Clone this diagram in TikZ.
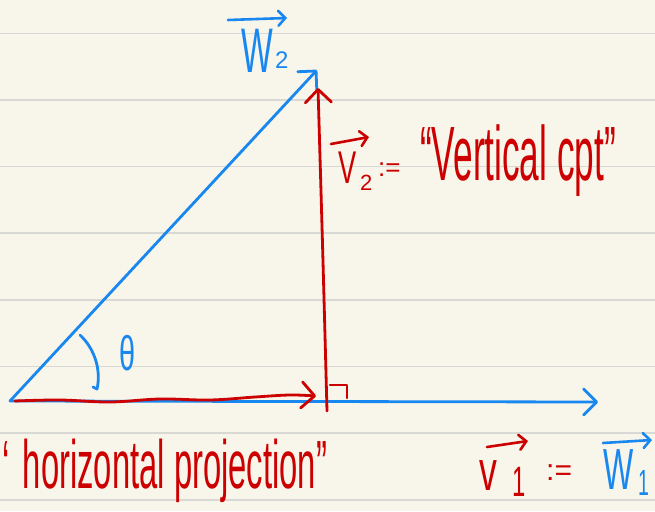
\documentclass[tikz,border=0pt]{standalone}
\usepackage{fontspec}
\setmainfont{Liberation Sans}
\usetikzlibrary{arrows.meta}
\definecolor{paper}{RGB}{248,245,234}
\definecolor{rulegray}{RGB}{216,216,212}
\definecolor{pen}{RGB}{25,135,240}
\definecolor{ink}{RGB}{204,0,0}
\tikzset{
  vecline/.style={line width=2.8pt, line cap=round, line join=round},
  barb/.style={-{Straight Barb[length=13pt,width=26pt,line cap=round,line join=round]}},
  smallbarb/.style={line width=2.6pt, line cap=round, -{Straight Barb[length=7pt,width=15pt,line cap=round]}},
  hand/.style={inner sep=0pt, anchor=base west},
}
\begin{document}
\begin{tikzpicture}[x=1pt,y=-1pt]
\fill[paper] (0,0) rectangle (655,511);
\useasboundingbox (0,0) rectangle (655,511);
\foreach \y in {33.5,100,166.5,233,300,366.5,433,500}
  \draw[rulegray, line width=1.5pt] (0,\y) -- (655,\y);

% main points
\coordinate (O) at (10,401);
\coordinate (A) at (317,70);
\coordinate (B) at (598,402);
\coordinate (F) at (327,411);
\coordinate (T) at (318,88);
\coordinate (S) at (15,401);
\coordinate (H) at (316,396);

% blue vectors
\draw[pen, vecline, barb] (O) -- (B);
\draw[pen, vecline, barb] (O) -- (A);

% red vertical component
\draw[ink, vecline, barb] (F) .. controls (323,260) .. (T);

% red horizontal projection (wavy)
\draw[ink, vecline, barb] plot[smooth, tension=0.6] coordinates
  {(S) (60,400) (110,402) (160,399) (210,400) (255,397) (290,395) (H)};

% right angle mark
\coordinate (R1) at (330,385);
\coordinate (R2) at (347,385);
\coordinate (R3) at (347,398);
\draw[ink, line width=2.4pt, line cap=round, line join=round] (R1) -- (R2) -- (R3);

% angle arc
\coordinate (th1) at (80,335);
\coordinate (th2) at (97,389);
\coordinate (th3) at (93,387);
\draw[pen, vecline] (th1) .. controls (96,350) and (101,372) .. (th2) -- (th3);
\node[pen, hand] (theta) at (119,370) {\fontsize{36}{36}\selectfont\scalebox{0.8}[1.35]{θ}};

% label W2
\node[pen, hand] (w2) at (241,72) {\fontsize{42}{42}\selectfont\scalebox{0.8}[1.5]{W}};
\node[pen, hand] (w2s) at (275,68) {\fontsize{24}{24}\selectfont 2};
\coordinate (w2l) at (228,20);
\coordinate (w2r) at (287,18);
\draw[pen, smallbarb] (w2l) -- (w2r);

% label V2 := "Vertical cpt"
\node[ink, hand] (v2) at (338,183) {\fontsize{34}{34}\selectfont\scalebox{0.8}[1.35]{V}};
\node[ink, hand] (v2s) at (360,190) {\fontsize{22}{22}\selectfont 2};
\coordinate (v2l) at (331,144);
\coordinate (v2r) at (369,137);
\draw[ink, smallbarb] (v2l) -- (v2r);
\node[ink, hand] (vdef) at (378,176) {\fontsize{26}{26}\selectfont :=};
\node[ink, hand] (vert) at (420,180) {\fontsize{44}{44}\selectfont\scalebox{0.8}[1.75]{“Vertical cpt”}};

% label horizontal projection
\node[ink, hand] (hproj) at (2,488) {\fontsize{39}{39}\selectfont\scalebox{0.84}[1.75]{‘\hspace{16pt}horizontal projection”}};

% label v1 := W1
\node[ink, hand] (v1) at (479,490) {\fontsize{42}{42}\selectfont\scalebox{0.85}[1.35]{v}};
\node[ink, hand] (v1s) at (512,496) {\fontsize{34}{34}\selectfont\scalebox{0.7}[1.25]{1}};
\coordinate (v1l) at (487,447);
\coordinate (v1r) at (528,441);
\draw[ink, smallbarb] (v1l) -- (v1r);
\node[ink, hand] (eqdef) at (546,480) {\fontsize{30}{30}\selectfont :=};
\node[pen, hand] (w1) at (603,489) {\fontsize{40}{40}\selectfont\scalebox{0.8}[1.45]{W}};
\node[pen, hand] (w1s) at (638,495) {\fontsize{28}{28}\selectfont\scalebox{0.7}[1.3]{1}};
\coordinate (w1l) at (603,443);
\coordinate (w1r) at (652,440);
\draw[pen, smallbarb] (w1l) -- (w1r);
\end{tikzpicture}
\end{document}
